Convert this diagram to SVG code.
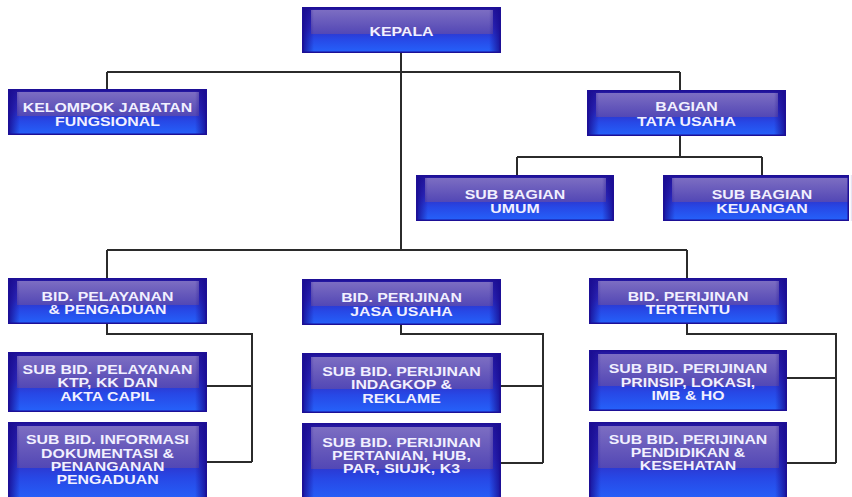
<svg xmlns="http://www.w3.org/2000/svg" width="852" height="497" viewBox="0 0 852 497">
<defs>
<linearGradient id="gBox" x1="0" y1="0" x2="0" y2="1">
<stop offset="0" stop-color="#23159c"/>
<stop offset="0.45" stop-color="#2f2cc2"/>
<stop offset="0.7" stop-color="#2748e6"/>
<stop offset="1" stop-color="#2563fb"/>
</linearGradient>
<linearGradient id="gBand" x1="0" y1="0" x2="0" y2="1">
<stop offset="0" stop-color="#8677c6"/>
<stop offset="1" stop-color="#5649b2"/>
</linearGradient>
<linearGradient id="gVig" x1="0" y1="0" x2="1" y2="0">
<stop offset="0" stop-color="#170a8e" stop-opacity="0.9"/>
<stop offset="0.06" stop-color="#170a8e" stop-opacity="0"/>
<stop offset="0.94" stop-color="#170a8e" stop-opacity="0"/>
<stop offset="1" stop-color="#170a8e" stop-opacity="0.9"/>
</linearGradient>
</defs>
<style>
.box{fill:url(#gBox)}
.vig{fill:url(#gVig)}
.band{fill:url(#gBand);opacity:0.9}
.edge{fill:none;stroke:#1d0f96;stroke-width:1.5}
text{font-family:"Liberation Sans",Arial,sans-serif;font-weight:bold;font-size:13px;fill:#f1f0ff;text-anchor:middle}
.conn path{fill:none;stroke:#2b2b2b;stroke-width:2}
</style>
<rect width="852" height="497" fill="#ffffff"/>

<g class="conn" id="connectors">
<path d="M401,53 V250"/>
<path d="M107,72 H680 M107,72 V89 M680,72 V90"/>
<path d="M680,136 V157 M517,157 H762 M517,157 V175 M762,157 V175"/>
<path d="M107,250 H687 M107,250 V278 M687,250 V278"/>
<path d="M107,324 V334 H252 V462 M207,386 H252 M207,462 H252"/>
<path d="M401,325 V334 H543 V463 M501,386 H543 M501,463 H543"/>
<path d="M687,324 V334 H836 V463 M787,378 H836 M787,463 H836"/>
</g>

<g id="kepala">
<rect class="box" x="302" y="7" width="199" height="46"/>
<rect class="band" x="311" y="10" width="182" height="24"/>
<rect class="vig" x="302" y="7" width="199" height="46"/>
<rect class="edge" x="302.75" y="7.75" width="197.5" height="44.5"/>
<g transform="translate(401.5,0) scale(1.22,1)"><text x="0" y="36.5">KEPALA</text></g>
</g>

<g id="kelompok">
<rect class="box" x="8" y="89" width="199" height="46"/>
<rect class="band" x="17" y="92" width="182" height="24"/>
<rect class="vig" x="8" y="89" width="199" height="46"/>
<rect class="edge" x="8.75" y="89.75" width="197.5" height="44.5"/>
<g transform="translate(107.5,0) scale(1.22,1)"><text x="0" y="112.5">KELOMPOK JABATAN</text><text x="0" y="125.7">FUNGSIONAL</text></g>
</g>

<g id="bagian-tu">
<rect class="box" x="587" y="90" width="199" height="46"/>
<rect class="band" x="596" y="93" width="182" height="24"/>
<rect class="vig" x="587" y="90" width="199" height="46"/>
<rect class="edge" x="587.75" y="90.75" width="197.5" height="44.5"/>
<g transform="translate(686.5,0) scale(1.22,1)"><text x="0" y="111">BAGIAN</text><text x="0" y="126.5">TATA USAHA</text></g>
</g>

<g id="sub-umum">
<rect class="box" x="416" y="175" width="198" height="46"/>
<rect class="band" x="425" y="178" width="181" height="24"/>
<rect class="vig" x="416" y="175" width="198" height="46"/>
<rect class="edge" x="416.75" y="175.75" width="196.5" height="44.5"/>
<g transform="translate(515,0) scale(1.22,1)"><text x="0" y="199.3">SUB BAGIAN</text><text x="0" y="212.7">UMUM</text></g>
</g>

<g id="sub-keuangan">
<rect class="box" x="663" y="175" width="186" height="46"/>
<rect class="band" x="672" y="178" width="177" height="24"/>
<rect class="vig" x="663" y="175" width="199" height="46"/>
<rect class="edge" x="663.75" y="175.75" width="184.5" height="44.5"/>
<g transform="translate(762,0) scale(1.22,1)"><text x="0" y="199.3">SUB BAGIAN</text><text x="0" y="212.7">KEUANGAN</text></g>
</g>

<g id="bid-pelayanan">
<rect class="box" x="8" y="278" width="199" height="46"/>
<rect class="band" x="17" y="281" width="182" height="24"/>
<rect class="vig" x="8" y="278" width="199" height="46"/>
<rect class="edge" x="8.75" y="278.75" width="197.5" height="44.5"/>
<g transform="translate(107.5,0) scale(1.22,1)"><text x="0" y="301">BID. PELAYANAN</text><text x="0" y="314">&amp; PENGADUAN</text></g>
</g>

<g id="bid-jasa-usaha">
<rect class="box" x="302" y="279" width="199" height="46"/>
<rect class="band" x="311" y="282" width="182" height="24"/>
<rect class="vig" x="302" y="279" width="199" height="46"/>
<rect class="edge" x="302.75" y="279.75" width="197.5" height="44.5"/>
<g transform="translate(401.5,0) scale(1.22,1)"><text x="0" y="302.5">BID. PERIJINAN</text><text x="0" y="316">JASA USAHA</text></g>
</g>

<g id="bid-tertentu">
<rect class="box" x="589" y="278" width="198" height="46"/>
<rect class="band" x="598" y="281" width="181" height="24"/>
<rect class="vig" x="589" y="278" width="198" height="46"/>
<rect class="edge" x="589.75" y="278.75" width="196.5" height="44.5"/>
<g transform="translate(688,0) scale(1.22,1)"><text x="0" y="301">BID. PERIJINAN</text><text x="0" y="314.3">TERTENTU</text></g>
</g>

<g id="sub-pelayanan">
<rect class="box" x="8" y="352" width="199" height="60"/>
<rect class="band" x="17" y="356" width="182" height="32"/>
<rect class="vig" x="8" y="352" width="199" height="60"/>
<rect class="edge" x="8.75" y="352.75" width="197.5" height="58.5"/>
<g transform="translate(107.5,0) scale(1.22,1)"><text x="0" y="374">SUB BID. PELAYANAN</text><text x="0" y="387.5">KTP, KK DAN</text><text x="0" y="401">AKTA CAPIL</text></g>
</g>

<g id="sub-informasi">
<rect class="box" x="8" y="422" width="199" height="80"/>
<rect class="band" x="17" y="426" width="182" height="42"/>
<rect class="vig" x="8" y="422" width="199" height="80"/>
<rect class="edge" x="8.75" y="422.75" width="197.5" height="78.5"/>
<g transform="translate(107.5,0) scale(1.22,1)"><text x="0" y="444">SUB BID. INFORMASI</text><text x="0" y="457.5">DOKUMENTASI &amp;</text><text x="0" y="471">PENANGANAN</text><text x="0" y="484.5">PENGADUAN</text></g>
</g>

<g id="sub-indagkop">
<rect class="box" x="302" y="353" width="199" height="60"/>
<rect class="band" x="311" y="357" width="182" height="32"/>
<rect class="vig" x="302" y="353" width="199" height="60"/>
<rect class="edge" x="302.75" y="353.75" width="197.5" height="58.5"/>
<g transform="translate(401.5,0) scale(1.22,1)"><text x="0" y="376">SUB BID. PERIJINAN</text><text x="0" y="389.5">INDAGKOP &amp;</text><text x="0" y="403">REKLAME</text></g>
</g>

<g id="sub-pertanian">
<rect class="box" x="302" y="423" width="199" height="80"/>
<rect class="band" x="311" y="427" width="182" height="42"/>
<rect class="vig" x="302" y="423" width="199" height="80"/>
<rect class="edge" x="302.75" y="423.75" width="197.5" height="78.5"/>
<g transform="translate(401.5,0) scale(1.22,1)"><text x="0" y="446.7">SUB BID. PERIJINAN</text><text x="0" y="460">PERTANIAN, HUB,</text><text x="0" y="473.3">PAR, SIUJK, K3</text></g>
</g>

<g id="sub-prinsip">
<rect class="box" x="589" y="350" width="198" height="61"/>
<rect class="band" x="598" y="354" width="181" height="32"/>
<rect class="vig" x="589" y="350" width="198" height="61"/>
<rect class="edge" x="589.75" y="350.75" width="196.5" height="59.5"/>
<g transform="translate(688,0) scale(1.22,1)"><text x="0" y="373.3">SUB BID. PERIJINAN</text><text x="0" y="386.7">PRINSIP, LOKASI,</text><text x="0" y="400">IMB &amp; HO</text></g>
</g>

<g id="sub-pendidikan">
<rect class="box" x="589" y="422" width="198" height="80"/>
<rect class="band" x="598" y="426" width="181" height="42"/>
<rect class="vig" x="589" y="422" width="198" height="80"/>
<rect class="edge" x="589.75" y="422.75" width="196.5" height="78.5"/>
<g transform="translate(688,0) scale(1.22,1)"><text x="0" y="444">SUB BID. PERIJINAN</text><text x="0" y="456.7">PENDIDIKAN &amp;</text><text x="0" y="470">KESEHATAN</text></g>
</g>
</svg>
